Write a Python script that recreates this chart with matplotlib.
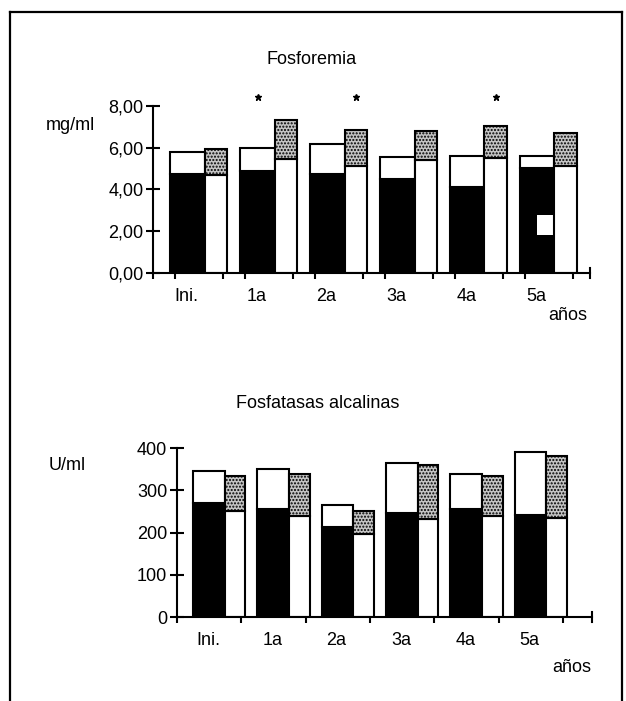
import matplotlib
matplotlib.use("Agg")
import matplotlib.pyplot as plt
from matplotlib.lines import Line2D
import numpy as np

plt.rcParams['font.family'] = ['Liberation Sans Narrow', 'Liberation Sans', 'DejaVu Sans']

grupos = ['Ini.', '1a', '2a', '3a', '4a', '5a']

# Fosforemia (mg/ml)
fos_negro = [4.73, 4.91, 4.73, 4.51, 4.14, 5.05]
fos_izq_total = [5.82, 5.98, 6.17, 5.58, 5.61, 5.61]
fos_der_blanco = [4.70, 5.45, 5.13, 5.42, 5.53, 5.13]
fos_der_total = [5.93, 7.33, 6.85, 6.80, 7.06, 6.73]
# hueco blanco en la barra negra de 5a (defecto de la copia)
hueco_grupo = [5]
hueco_inf = [1.80]
hueco_sup = [2.80]
# asteriscos
ast_grupo = [1, 2, 4]
ast_lado = ['izq', 'der', 'der']

# Fosfatasas alcalinas (U/ml)
fa_negro = [271, 255, 214, 247, 256, 242]
fa_izq_total = [345, 350, 264, 364, 339, 390]
fa_der_blanco = [252, 239, 196, 231, 239, 234]
fa_der_total = [334, 339, 252, 359, 334, 380]

IZQ0, DIV, DER1 = 0.25, 0.74, 1.06
GRIS = '#c4c4c4'
LW = 1.5


def barras(ax, negro, izq_total, der_blanco, der_total, hueco=None):
    ind = np.arange(len(negro))
    w1 = DIV - IZQ0
    w2 = DER1 - DIV
    x1 = ind + IZQ0
    x2 = ind + DIV
    negro = np.array(negro)
    ax.bar(x1, negro, w1, align='edge', color='black', edgecolor='black', linewidth=LW)
    ax.bar(x1, np.array(izq_total) - negro, w1, bottom=negro, align='edge',
           color='white', edgecolor='black', linewidth=LW)
    if hueco is not None:
        g, lo, hi = hueco
        g = np.array(g)
        ax.bar(g + (IZQ0 + DIV) / 2, np.array(hi) - np.array(lo), DIV - (IZQ0 + DIV) / 2 - 0.01,
               bottom=lo, align='edge', color='white', linewidth=0)
    der_blanco = np.array(der_blanco)
    ax.bar(x2, der_blanco, w2, align='edge', color='white', edgecolor='black', linewidth=LW)
    ax.bar(x2, np.array(der_total) - der_blanco, w2, bottom=der_blanco, align='edge',
           color=GRIS, edgecolor='black', linewidth=LW, hatch='.....')


def ejes(ax, xmax, ymax, yticks, yfmt, marcas):
    ax.set_xlim(0, xmax)
    ax.set_ylim(0, ymax)
    for s in ['top', 'right']:
        ax.spines[s].set_visible(False)
    ax.spines['left'].set_linewidth(LW)
    ax.spines['bottom'].set_linewidth(LW)
    ax.set_yticks(yticks)
    ax.set_yticklabels([yfmt(v) for v in yticks], fontsize=13)
    ax.tick_params(axis='y', direction='inout', length=10, width=LW, pad=2)
    ax.set_xticks(np.arange(6) + 0.48)
    ax.set_xticklabels(grupos, fontsize=13)
    ax.tick_params(axis='x', which='major', length=0, pad=11)
    ax.set_xticks(marcas, minor=True)
    ax.tick_params(axis='x', which='minor', direction='out', length=4, width=LW)
    ax.plot([xmax, xmax], [-ymax * 0.03, ymax * 0.03], color='black', lw=LW, clip_on=False)


fig = plt.figure(figsize=(6.26, 7.01), dpi=100)

# panel superior
ax1 = fig.add_axes([153 / 626, 1 - 273 / 701, (590 - 153) / 626, (273 - 106) / 701])
barras(ax1, fos_negro, fos_izq_total, fos_der_blanco, fos_der_total,
       hueco=(hueco_grupo, hueco_inf, hueco_sup))
marcas1 = [0] + [v for i in range(6) for v in (i + 0.32, i + 1.0)]
ejes(ax1, 6.25, 8, [0, 2, 4, 6, 8], lambda v: f'{v:.2f}'.replace('.', ','), marcas1)
ax_x = [g + ((IZQ0 + DIV) / 2 if l == 'izq' else (DIV + DER1) / 2) for g, l in zip(ast_grupo, ast_lado)]
ax1.plot(ax_x, [8.43] * len(ax_x), linestyle='none', marker='*', color='black',
         markersize=5, clip_on=False)

# panel inferior
ax2 = fig.add_axes([177 / 626, 1 - 617 / 701, (592 - 177) / 626, (617 - 448) / 701])
barras(ax2, fa_negro, fa_izq_total, fa_der_blanco, fa_der_total)
ejes(ax2, 6.45, 400, [0, 100, 200, 300, 400], lambda v: f'{v:d}', list(range(7)))

# textos
fig.text(312 / 626, 1 - 60 / 701, 'Fosforemia', ha='center', va='center', fontsize=13)
fig.text(70 / 626, 1 - 126 / 701, 'mg/ml', ha='center', va='center', fontsize=13)
fig.text(568 / 626, 1 - 316 / 701, 'años', ha='center', va='center', fontsize=13)
fig.text(318 / 626, 1 - 403 / 701, 'Fosfatasas alcalinas', ha='center', va='center', fontsize=13)
fig.text(67 / 626, 1 - 466 / 701, 'U/ml', ha='center', va='center', fontsize=13)
fig.text(572 / 626, 1 - 667 / 701, 'años', ha='center', va='center', fontsize=13)

# marco
for xs, ys in [([10, 10], [701, 12]), ([10, 622], [12, 12]), ([622, 622], [12, 701])]:
    fig.add_artist(Line2D([x / 626 for x in xs], [1 - y / 701 for y in ys],
                          color='black', linewidth=1.6))

plt.savefig('out.png', dpi=100)
